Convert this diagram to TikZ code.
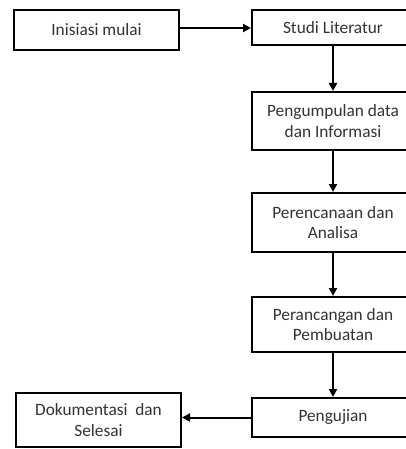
\documentclass[tikz,border=0pt]{standalone}
\usepackage{fontspec}
\setmainfont{Carlito}
\usetikzlibrary{arrows.meta}
\begin{document}
\begin{tikzpicture}[x=1pt,y=-1pt,
  box/.style={draw=black,line width=2pt,fill=white,inner sep=0pt,align=center,
    text=black!80,font=\fontsize{17.3}{20.5}\selectfont},
  arr/.style={line width=2pt,-{Triangle[length=8pt,width=8pt]}}]
\useasboundingbox (0,0) rectangle (406,449);
\clip (0,0) rectangle (406,449);
\node[box,minimum width=165pt,minimum height=40pt] (b1) at (96.5,30) {Inisiasi mulai};
\node[box,minimum width=162pt,minimum height=35pt] (b2) at (333,27.5) {Studi Literatur};
\node[box,minimum width=162pt,minimum height=58pt] (b3) at (333,121) {Pengumpulan data\\dan Informasi};
\node[box,minimum width=162pt,minimum height=59pt] (b4) at (333,222.5) {Perencanaan dan\\Analisa};
\node[box,minimum width=162pt,minimum height=55pt] (b5) at (333,324.5) {Perancangan dan\\Pembuatan};
\node[box,minimum width=162pt,minimum height=39pt] (b6) at (333,417.5) {Pengujian};
\node[box,minimum width=165pt,minimum height=54pt] (b7) at (98.5,420) {Dokumentasi~ dan\\Selesai};
\draw[arr] ([yshift=2pt]b1.east) -- ([yshift=2pt]b1.east -| b2.west);
\draw[arr] (b2) -- (b3);
\draw[arr] (b3) -- (b4);
\draw[arr] (b4) -- (b5);
\draw[arr] (b5) -- (b6);
\draw[arr] (b6.west) -- (b6.west -| b7.east);
\end{tikzpicture}
\end{document}
